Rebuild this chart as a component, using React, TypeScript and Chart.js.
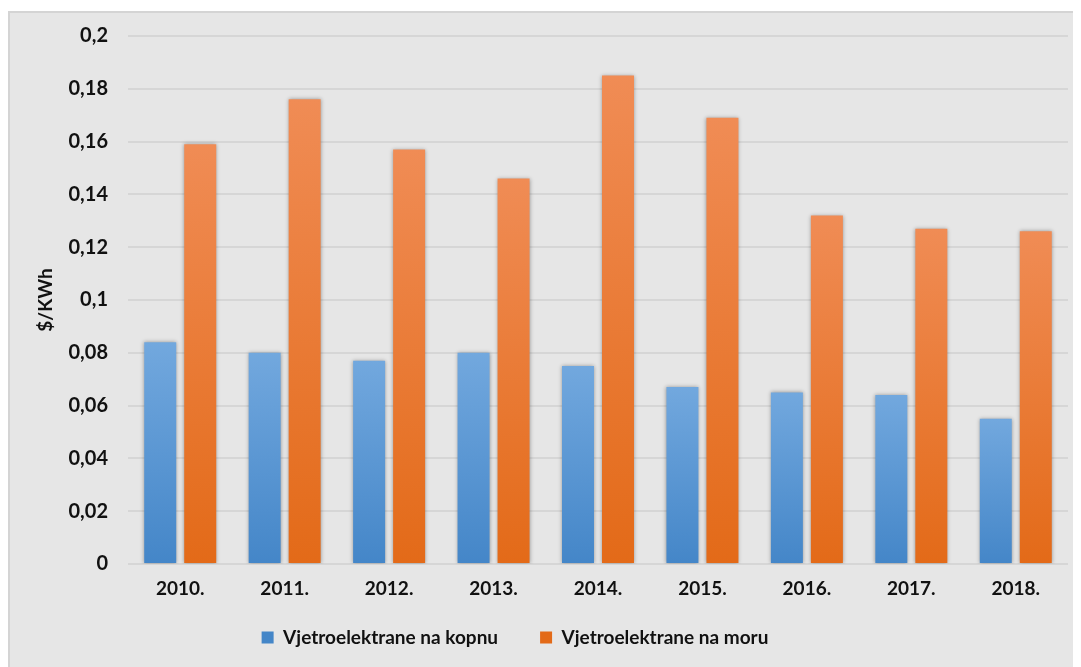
import React, { useEffect, useRef } from "react";
import { Chart, registerables } from "chart.js";

Chart.register(...registerables);

const years = ["2010.", "2011.", "2012.", "2013.", "2014.", "2015.", "2016.", "2017.", "2018."];
const onshore = [0.084, 0.08, 0.077, 0.08, 0.075, 0.067, 0.065, 0.064, 0.055];
const offshore = [0.159, 0.176, 0.157, 0.146, 0.185, 0.169, 0.132, 0.127, 0.126];
const seriesNames = ["Vjetroelektrane na kopnu", "Vjetroelektrane na moru"];
const yTitle = "$/KWh";

const FONT = "Lato";

function gradientFill(top: string, bottom: string, solid: string) {
  return (c: any) => {
    const chart = c.chart;
    const area = chart.chartArea;
    if (c.type !== "data" || !area) return solid;
    const yScale = chart.scales.y;
    const yTop = yScale.getPixelForValue(c.raw);
    const yBot = yScale.getPixelForValue(0);
    if (!isFinite(yTop) || Math.abs(yBot - yTop) < 1) return solid;
    const g = chart.ctx.createLinearGradient(0, yTop, 0, yBot);
    g.addColorStop(0, top);
    g.addColorStop(1, bottom);
    return g;
  };
}

const shadowPlugin = {
  id: "barShadow",
  beforeDatasetsDraw(chart: any) {
    const ctx = chart.ctx;
    ctx.save();
    ctx.shadowColor = "rgba(0,0,0,0.35)";
    ctx.shadowBlur = 4;
    ctx.shadowOffsetX = 0;
    ctx.shadowOffsetY = 0;
  },
  afterDatasetsDraw(chart: any) {
    chart.ctx.restore();
  },
};

// move the legend up a little so that it sits closer to the axis labels
const legendShift = {
  id: "legendShift",
  afterLayout(chart: any) {
    const l = chart.legend;
    if (!l) return;
    l.top -= 28;
    l.bottom -= 28;
  },
};

export default function App() {
  const ref = useRef<HTMLCanvasElement | null>(null);

  useEffect(() => {
    if (!ref.current) return;
    const chart = new Chart(ref.current, {
      type: "bar",
      data: {
        labels: years,
        datasets: [
          {
            label: seriesNames[0],
            data: onshore,
            backgroundColor: gradientFill("#72a8de", "#4486c8", "#5b9bd5"),
            borderWidth: 0,
            categoryPercentage: 0.766,
            barPercentage: 0.8,
          },
          {
            label: seriesNames[1],
            data: offshore,
            backgroundColor: gradientFill("#f08c55", "#e36a18", "#ed7d31"),
            borderWidth: 0,
            categoryPercentage: 0.766,
            barPercentage: 0.8,
          },
        ],
      },
      options: {
        responsive: false,
        animation: false,
        layout: { padding: { left: -48, right: 13, top: 23, bottom: -18 } },
        plugins: {
          tooltip: { enabled: false },
          legend: {
            position: "bottom",
            labels: {
              boxWidth: 12,
              boxHeight: 12,
              padding: 42,
              color: "#111",
              font: { family: FONT, size: 19, weight: "bold" },
            },
          },
        },
        scales: {
          x: {
            grid: { display: false },
            border: { display: false },
            ticks: {
              color: "#111",
              padding: 5,
              font: { family: FONT, size: 19, weight: "bold" },
            },
            afterFit(scale: any) {
              scale.height = 50;
            },
          },
          y: {
            min: 0,
            max: 0.2,
            border: { display: false },
            grid: { color: "#d6d6d6", lineWidth: 2, drawTicks: false },
            ticks: {
              stepSize: 0.02,
              color: "#111",
              padding: 20,
              font: { family: FONT, size: 20, weight: "bold" },
              callback: (v: any) => {
                const n = Math.round(Number(v) * 100) / 100;
                return String(n).replace(".", ",");
              },
            },
            title: {
              display: true,
              text: yTitle,
              color: "#111",
              padding: { top: 72, bottom: 0 },
              font: { family: FONT, size: 19, weight: "bold" },
            },
            afterFit(scale: any) {
              scale.width = 166;
              scale.paddingTop = 10;
              scale.paddingBottom = 10;
            },
          },
        },
      },
      plugins: [shadowPlugin, legendShift],
    });
    return () => chart.destroy();
  }, []);

  return (
    <div style={{ paddingTop: 3 }}>
      <div
        style={{
          width: 1071,
          height: 654,
          background: "#e6e6e6",
          borderLeft: "2px solid #d4d4d4",
          borderTop: "2px solid #d4d4d4",
        }}
      >
        <canvas ref={ref} width={1071} height={654} style={{ display: "block" }} />
      </div>
    </div>
  );
}
